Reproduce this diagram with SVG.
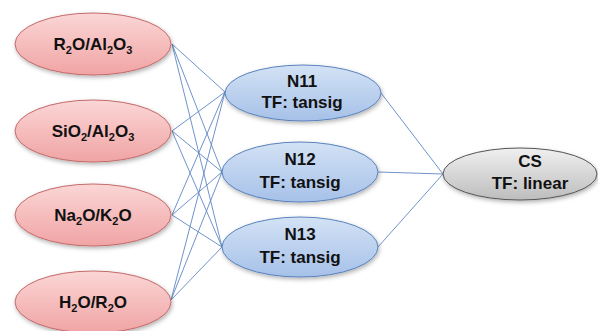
<svg xmlns="http://www.w3.org/2000/svg" width="598" height="331" viewBox="0 0 598 331">
<defs>
<linearGradient id="gPink" x1="0" y1="0" x2="0" y2="1"><stop offset="0" stop-color="#fbd6d6"/><stop offset="1" stop-color="#f0a4a4"/></linearGradient>
<linearGradient id="gBlue" x1="0" y1="0" x2="0" y2="1"><stop offset="0" stop-color="#d3e2f5"/><stop offset="1" stop-color="#a6c1e8"/></linearGradient>
<linearGradient id="gGray" x1="0" y1="0" x2="0" y2="1"><stop offset="0" stop-color="#f0f0f0"/><stop offset="1" stop-color="#bdbdbd"/></linearGradient>
<filter id="sh" x="-20%" y="-20%" width="140%" height="150%"><feDropShadow dx="1" dy="2" stdDeviation="2" flood-color="#000" flood-opacity="0.3"/></filter>
<style>
.in{fill:url(#gPink);stroke:#c46a6a;stroke-width:1;filter:url(#sh)}
.hid{fill:url(#gBlue);stroke:#5a82bd;stroke-width:1;filter:url(#sh)}
.out{fill:url(#gGray);stroke:#555;stroke-width:1;filter:url(#sh)}
.t{font-family:"Liberation Sans",Arial,sans-serif;font-weight:bold;font-size:17px;fill:#111;text-anchor:middle}
.s{font-size:11px}
.c line{stroke:#5f87c4;stroke-width:0.9}
</style>
</defs>
<g class="c" id="connectors">
<line x1="172" y1="44" x2="225" y2="92"/><line x1="172" y1="44" x2="222" y2="172"/><line x1="172" y1="44" x2="222" y2="247"/>
<line x1="172" y1="131" x2="225" y2="92"/><line x1="172" y1="131" x2="222" y2="172"/><line x1="172" y1="131" x2="222" y2="247"/>
<line x1="172" y1="215" x2="225" y2="92"/><line x1="172" y1="215" x2="222" y2="172"/><line x1="172" y1="215" x2="222" y2="247"/>
<line x1="171" y1="300" x2="225" y2="92"/><line x1="171" y1="300" x2="222" y2="172"/><line x1="171" y1="300" x2="222" y2="247"/>
<line x1="381" y1="93" x2="443" y2="174"/><line x1="378" y1="172" x2="443" y2="174"/><line x1="378" y1="247" x2="443" y2="174"/>
</g>
<g id="in1"><ellipse class="in" cx="93" cy="44" rx="78" ry="31"/><text class="t" x="93" y="50">R<tspan class="s" dy="4">2</tspan><tspan dy="-4">O/Al</tspan><tspan class="s" dy="4">2</tspan><tspan dy="-4">O</tspan><tspan class="s" dy="4">3</tspan></text></g>
<g id="in2"><ellipse class="in" cx="93" cy="131" rx="78" ry="31"/><text class="t" x="93" y="137">SiO<tspan class="s" dy="4">2</tspan><tspan dy="-4">/Al</tspan><tspan class="s" dy="4">2</tspan><tspan dy="-4">O</tspan><tspan class="s" dy="4">3</tspan></text></g>
<g id="in3"><ellipse class="in" cx="93" cy="215" rx="78" ry="31"/><text class="t" x="93" y="221">Na<tspan class="s" dy="4">2</tspan><tspan dy="-4">O/K</tspan><tspan class="s" dy="4">2</tspan><tspan dy="-4">O</tspan></text></g>
<g id="in4"><ellipse class="in" cx="93" cy="302" rx="78" ry="31"/><text class="t" x="93" y="308">H<tspan class="s" dy="4">2</tspan><tspan dy="-4">O/R</tspan><tspan class="s" dy="4">2</tspan><tspan dy="-4">O</tspan></text></g>
<g id="n11"><ellipse class="hid" cx="303" cy="93" rx="78" ry="28"/><text class="t" x="302" y="87">N11</text><text class="t" x="302" y="108">TF: tansig</text></g>
<g id="n12"><ellipse class="hid" cx="300" cy="172" rx="78" ry="30"/><text class="t" x="300" y="165">N12</text><text class="t" x="300" y="188">TF: tansig</text></g>
<g id="n13"><ellipse class="hid" cx="300" cy="247" rx="78" ry="30"/><text class="t" x="300" y="240">N13</text><text class="t" x="300" y="263">TF: tansig</text></g>
<g id="cs"><ellipse class="out" cx="520" cy="174" rx="77" ry="26"/><text class="t" x="530" y="167">CS</text><text class="t" x="530" y="189">TF: linear</text></g>
</svg>
